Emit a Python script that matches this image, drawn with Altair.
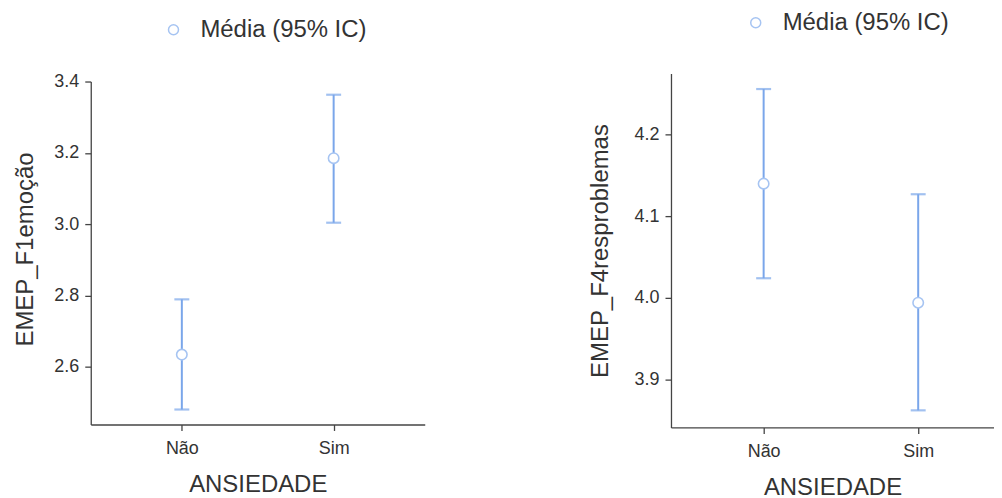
import altair as alt
import pandas as pd

categories = ["Não", "Sim"]
series_name = "Média (95% IC)"

f1_mean = [2.634, 3.185]
f1_lo = [2.480, 3.004]
f1_hi = [2.789, 3.363]
f1_domain = [2.438, 3.4224]
f1_ticks = [2.6, 2.8, 3.0, 3.2, 3.4]

f4_mean = [4.140, 3.994]
f4_lo = [4.024, 3.862]
f4_hi = [4.256, 4.127]
f4_domain = [3.841, 4.275]
f4_ticks = [3.9, 4.0, 4.1, 4.2]

FONT = "Liberation Sans"
BAR = "#7aa6ea"
PT = "#a6c4f2"
TXT = "#333333"
AX = "#444444"


def panel(mean, lo, hi, domain, ticks, ytitle, width, height, lx, ly, ytp,
          xpad, xalign, ydash):
    df = pd.DataFrame({"cat": categories, "mean": mean, "lo": lo, "hi": hi,
                       "serie": [series_name] * len(categories)})
    x = alt.X("cat:N", sort=categories, title="ANSIEDADE",
              scale=alt.Scale(type="point", padding=xpad, align=xalign),
              axis=alt.Axis(labelAngle=0, labelFontSize=18, labelColor=TXT,
                            labelFont=FONT, titleFont=FONT, titleFontSize=24,
                            titleColor=TXT, titleFontWeight="normal",
                            titlePadding=15, labelPadding=9, tickSize=6,
                            domainColor=AX, tickColor=AX, domainWidth=1.3,
                            tickWidth=1.3))
    yscale = alt.Scale(domain=domain, nice=False, zero=False)
    yaxis_kw = dict(values=ticks, format=".1f", labelFontSize=18,
                    labelColor=TXT, labelFont=FONT, titleFont=FONT,
                    titleFontSize=24, titleColor=TXT, titleFontWeight="normal",
                    titlePadding=ytp, labelPadding=6, tickSize=6,
                    domainColor=AX, tickColor=AX, domainWidth=1.3,
                    tickWidth=1.3, grid=False)
    if ydash:
        yaxis_kw["domainDash"] = ydash
    yaxis = alt.Axis(**yaxis_kw)
    base = alt.Chart(df)
    rule = base.mark_rule(color=BAR, strokeWidth=2).encode(
        x=x, y=alt.Y("lo:Q", scale=yscale, axis=yaxis, title=ytitle),
        y2="hi:Q")
    cap_lo = base.mark_tick(color=BAR, size=15, thickness=2.2).encode(
        x=x, y=alt.Y("lo:Q", scale=yscale))
    cap_hi = base.mark_tick(color=BAR, size=15, thickness=2.2).encode(
        x=x, y=alt.Y("hi:Q", scale=yscale))
    pts = base.mark_point(shape="circle", filled=False, fill="white",
                          fillOpacity=1, opacity=1, size=110,
                          strokeWidth=1.6).encode(
        x=x, y=alt.Y("mean:Q", scale=yscale),
        color=alt.Color("serie:N",
                        scale=alt.Scale(domain=[series_name], range=[PT]),
                        legend=alt.Legend(title=None, orient="none",
                                          legendX=lx, legendY=ly,
                                          labelFontSize=24, labelFont=FONT,
                                          labelColor=TXT, symbolSize=100,
                                          symbolStrokeWidth=1.5,
                                          symbolFillColor="white",
                                          labelOffset=15, labelLimit=0)))
    return alt.layer(rule, cap_lo, cap_hi, pts).properties(width=width, height=height)


left = panel(f1_mean, f1_lo, f1_hi, f1_domain, f1_ticks, "EMEP_F1emoção",
             335, 352, 71, -56, 16, 0.6, 0.5, [344, 40])
right = panel(f4_mean, f4_lo, f4_hi, f4_domain, f4_ticks, "EMEP_F4resproblemas",
              324, 355, 73, -63, 22, 0.545, 0.55, None)

chart = alt.hconcat(left, right, spacing=163).resolve_scale(
    color="independent", y="independent", x="independent"
).configure(
    padding={"left": 5, "top": 2, "right": 0, "bottom": 0},
    view=alt.ViewConfig(strokeWidth=0, stroke="transparent"),
)

chart.save("out.html", embed_options={"renderer": "svg", "actions": False})
